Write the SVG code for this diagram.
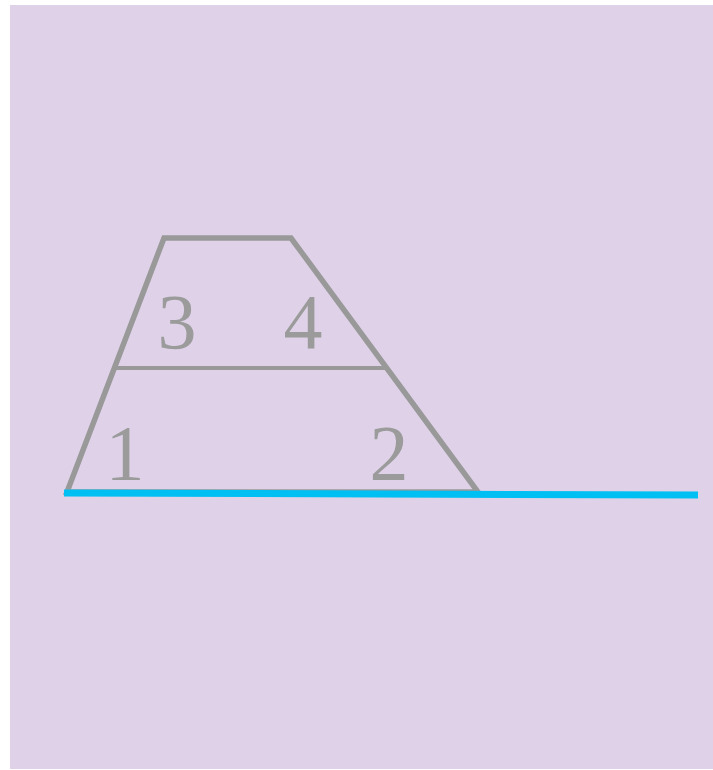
<svg xmlns="http://www.w3.org/2000/svg" width="713" height="770" viewBox="0 0 713 770">
<style>
.edge{fill:none;stroke:#999999;stroke-linejoin:miter}
.lbl{font-family:"Liberation Serif","Times New Roman",serif;font-size:78px;fill:#9B9B9B;text-anchor:middle}
</style>
<rect x="0" y="0" width="713" height="770" fill="#ffffff"/>
<rect x="10" y="5" width="703" height="764" fill="#DFD2E8"/>
<g id="trapezoid">
<polygon class="edge" stroke-width="5.5" points="164,238 291,238 478,492 67,492"/>
<line class="edge" stroke-width="4" x1="115" y1="368" x2="385" y2="368"/>
</g>
<g id="labels">
<text class="lbl" x="177" y="348">3</text>
<text class="lbl" x="303" y="348">4</text>
<text class="lbl" x="125" y="479">1</text>
<text class="lbl" x="389" y="479">2</text>
</g>
<g id="connectors">
<line x1="64" y1="493" x2="698" y2="495" stroke="#00BFF3" stroke-width="7"/>
</g>
</svg>
